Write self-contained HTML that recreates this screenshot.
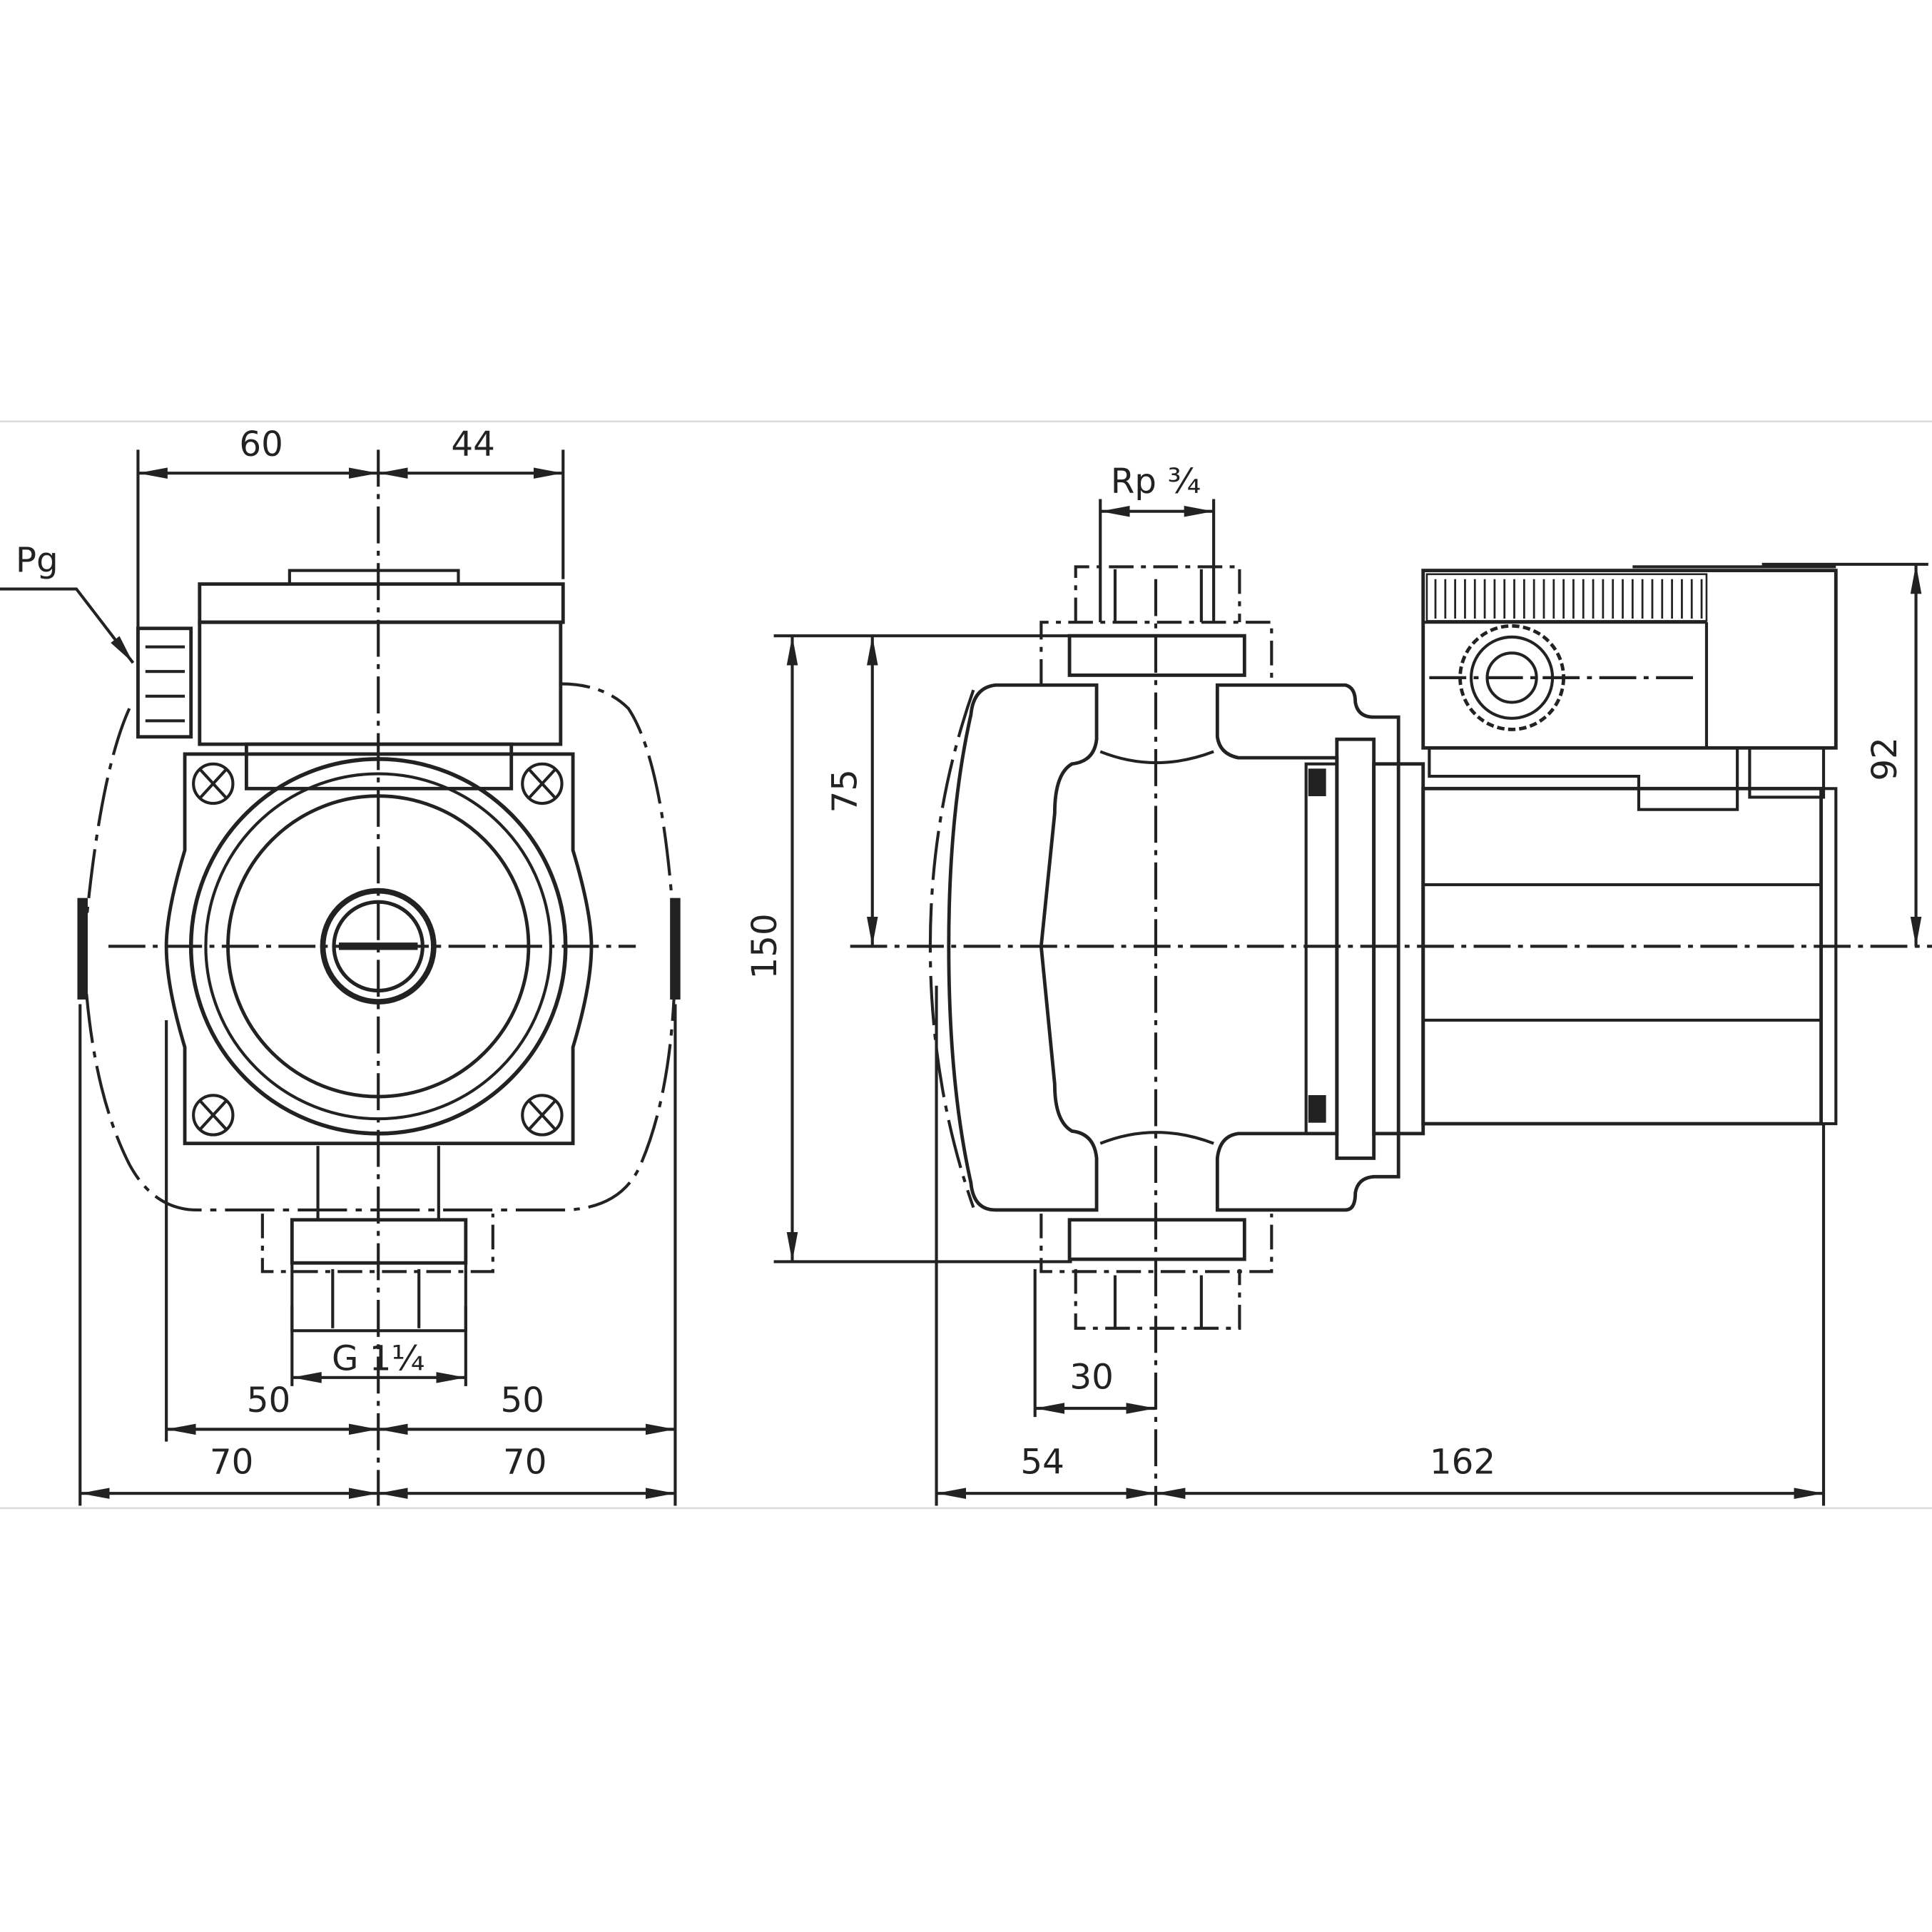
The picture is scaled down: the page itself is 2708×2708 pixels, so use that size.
<!DOCTYPE html>
<html><head><meta charset="utf-8"><style>
html,body{margin:0;padding:0;background:#fff}
svg{display:block}
text{font-family:"DejaVu Sans","Liberation Sans",sans-serif;font-size:28px;fill:#222;font-weight:500}
</style></head><body>
<svg width="2708" height="2708" viewBox="0 0 1568 1568" xmlns="http://www.w3.org/2000/svg">
<defs>
<marker id="a" viewBox="0 0 24 9" refX="24" refY="4.5" markerWidth="24" markerHeight="9" markerUnits="userSpaceOnUse" orient="auto-start-reverse"><path d="M0,0L24,4.5L0,9z" fill="#222"/></marker>
</defs>
<rect width="1568" height="1568" fill="#fff"/>
<line x1="0" y1="342" x2="1568" y2="342" stroke="#ddd" stroke-width="1.5"/>
<line x1="0" y1="1224" x2="1568" y2="1224" stroke="#ddd" stroke-width="1.5"/>
<g stroke="#222" fill="none" stroke-width="2.4">
<!-- LEFT VIEW dims -->
<line x1="112" y1="384" x2="307" y2="384" marker-start="url(#a)" marker-end="url(#a)"/>
<line x1="307" y1="384" x2="457" y2="384" marker-start="url(#a)" marker-end="url(#a)"/>
<line x1="112" y1="365" x2="112" y2="540"/>
<line x1="457" y1="365" x2="457" y2="470"/>
<line x1="307" y1="365" x2="307" y2="1222" stroke-dasharray="30,6,4,6"/>
<line x1="88" y1="768" x2="516" y2="768" stroke-dasharray="30,6,4,6"/>
<polyline points="0,478 62,478 108,538" marker-end="url(#a)"/>
<line x1="237" y1="1118" x2="378" y2="1118" marker-start="url(#a)" marker-end="url(#a)"/>
<line x1="237" y1="1060" x2="237" y2="1125"/><line x1="378" y1="1060" x2="378" y2="1125"/>
<line x1="135" y1="1160" x2="307" y2="1160" marker-start="url(#a)" marker-end="url(#a)"/>
<line x1="307" y1="1160" x2="548" y2="1160" marker-start="url(#a)" marker-end="url(#a)"/>
<line x1="65" y1="1212" x2="307" y2="1212" marker-start="url(#a)" marker-end="url(#a)"/>
<line x1="307" y1="1212" x2="548" y2="1212" marker-start="url(#a)" marker-end="url(#a)"/>
<line x1="135" y1="828" x2="135" y2="1170"/>
<line x1="548" y1="815" x2="548" y2="1222"/>
<line x1="65" y1="815" x2="65" y2="1222"/>
<!-- LEFT VIEW body -->
<path d="M105,575 Q80,630 68,770 Q72,880 105,945 Q125,982 160,982 L460,982 Q505,980 520,945 Q548,880 548,770 Q540,620 510,575 Q490,555 455,555" stroke-dasharray="40,7,5,7"/>
<rect x="64" y="730" width="6" height="80" fill="#222"/><rect x="545" y="730" width="6" height="80" fill="#222"/>
<rect x="162" y="474" width="295" height="31" stroke-width="2.8"/>
<rect x="162" y="505" width="293" height="99" stroke-width="2.8"/>
<rect x="235" y="463" width="137" height="11"/>
<rect x="112" y="510" width="43" height="88" stroke-width="2.8"/>
<line x1="118" y1="525" x2="150" y2="525"/><line x1="118" y1="545" x2="150" y2="545"/><line x1="118" y1="565" x2="150" y2="565"/><line x1="118" y1="585" x2="150" y2="585"/>
<rect x="200" y="604" width="215" height="36" stroke-width="2.8"/>
<path d="M150,612 L465,612 L465,690 Q480,740 480,768 Q480,800 465,850 L465,928 L150,928 L150,850 Q135,800 135,768 Q135,740 150,690 Z" stroke-width="2.8"/>
<circle cx="173" cy="636" r="16"/><circle cx="440" cy="636" r="16"/><circle cx="173" cy="905" r="16"/><circle cx="440" cy="905" r="16"/>
<path d="M162,624l22,24M184,624l-22,24M429,624l22,24M451,624l-22,24M162,893l22,24M184,893l-22,24M429,893l22,24M451,893l-22,24"/>
<circle cx="307" cy="768" r="152" stroke-width="3.2"/>
<circle cx="307" cy="768" r="140" stroke-width="2.4"/>
<circle cx="307" cy="768" r="122" stroke-width="2.8"/>
<circle cx="307" cy="768" r="45" stroke-width="4.5"/>
<circle cx="307" cy="768" r="36" stroke-width="3"/>
<line x1="275" y1="768" x2="339" y2="768" stroke-width="6"/>
<path d="M258,930 L258,990 M356,930 L356,990"/>
<rect x="237" y="990" width="141" height="35" stroke-width="2.8"/>
<path d="M237,1025 L237,1080 L378,1080 L378,1025 M270,1030 L270,1078 M340,1030 L340,1078"/>
<path d="M213,985 L213,1032 L400,1032 L400,985" stroke-dasharray="20,6,4,6"/>
<!-- RIGHT VIEW dims -->
<line x1="893" y1="415" x2="985" y2="415" marker-start="url(#a)" marker-end="url(#a)"/>
<line x1="893" y1="405" x2="893" y2="505"/><line x1="985" y1="405" x2="985" y2="505"/>
<line x1="643" y1="516" x2="643" y2="1024" marker-start="url(#a)" marker-end="url(#a)"/>
<line x1="708" y1="516" x2="708" y2="768" marker-start="url(#a)" marker-end="url(#a)"/>
<line x1="628" y1="516" x2="870" y2="516"/>
<line x1="628" y1="1024" x2="870" y2="1024"/>
<line x1="690" y1="768" x2="1568" y2="768" stroke-dasharray="30,6,4,6"/>
<line x1="938" y1="470" x2="938" y2="1222" stroke-dasharray="30,6,4,6"/>
<line x1="1555" y1="458" x2="1555" y2="768" marker-start="url(#a)" marker-end="url(#a)"/>
<line x1="1430" y1="458" x2="1565" y2="458"/>
<line x1="840" y1="1143" x2="938" y2="1143" marker-start="url(#a)" marker-end="url(#a)"/>
<line x1="840" y1="1030" x2="840" y2="1150"/>
<line x1="760" y1="1212" x2="938" y2="1212" marker-start="url(#a)" marker-end="url(#a)"/>
<line x1="938" y1="1212" x2="1480" y2="1212" marker-start="url(#a)" marker-end="url(#a)"/>
<line x1="760" y1="800" x2="760" y2="1222"/>
<line x1="1480" y1="912" x2="1480" y2="1222"/>
<!-- RIGHT VIEW body -->
<path d="M873,505 L873,460 L1006,460 L1006,505" stroke-dasharray="20,6,4,6"/>
<path d="M905,462 L905,505 M975,462 L975,505"/>
<path d="M845,555 L845,505 L1032,505 L1032,555" stroke-dasharray="20,6,4,6"/>
<rect x="868" y="516" width="142" height="32" stroke-width="2.8"/>
<rect x="868" y="990" width="142" height="32" stroke-width="2.8"/>
<path d="M873,1030 L873,1078 L1006,1078 L1006,1030" stroke-dasharray="20,6,4,6"/>
<path d="M905,1035 L905,1078 M975,1035 L975,1078"/>
<path d="M845,985 L845,1032 L1032,1032 L1032,985" stroke-dasharray="20,6,4,6"/>
<path d="M890,556 L808,556 Q790,558 788,580 Q770,660 770,768 Q770,880 788,960 Q790,982 808,982 L890,982 L890,940 Q888,920 870,918 Q856,910 856,880 L845,768 L856,660 Q856,628 870,620 Q888,618 890,600 Z" stroke-width="2.8"/>
<path d="M988,556 L1092,556 Q1100,558 1100,570 Q1102,582 1115,582 L1135,582 L1135,955 L1115,955 Q1102,956 1100,968 Q1100,982 1092,982 L988,982 L988,940 Q990,922 1005,920 L1085,920 L1085,615 L1005,615 Q990,612 988,598 Z" stroke-width="2.8"/>
<path d="M893,610 Q938,628 985,610 M893,928 Q938,910 985,928"/>
<path d="M790,560 Q755,660 755,768 Q755,880 790,980" stroke-dasharray="40,7,5,7"/>
<rect x="1085" y="600" width="30" height="340" stroke-width="2.8"/>
<rect x="1060" y="620" width="25" height="300"/>
<rect x="1115" y="620" width="40" height="300" stroke-width="2.8"/>
<rect x="1063" y="625" width="12" height="20" fill="#222"/><rect x="1063" y="890" width="12" height="20" fill="#222"/>
<rect x="1155" y="640" width="323" height="272" stroke-width="2.8"/>
<line x1="1155" y1="718" x2="1478" y2="718"/><line x1="1155" y1="828" x2="1478" y2="828"/>
<path d="M1478,640 L1490,640 L1490,912 L1478,912"/>
<rect x="1155" y="463" width="335" height="144" stroke-width="2.8"/>
<rect x="1158" y="466" width="227" height="38" stroke-width="1.5"/>
<g stroke-width="1.6">
<path d="M1165,470V502M1173,470V502M1181,470V502M1189,470V502M1197,470V502M1205,470V502M1213,470V502M1221,470V502M1229,470V502M1237,470V502M1245,470V502M1253,470V502M1261,470V502M1269,470V502M1277,470V502M1285,470V502M1293,470V502M1301,470V502M1309,470V502M1317,470V502M1325,470V502M1333,470V502M1341,470V502M1349,470V502M1357,470V502M1365,470V502M1373,470V502M1381,470V502"/>
</g>
<line x1="1325" y1="460" x2="1490" y2="460"/>
<line x1="1155" y1="505" x2="1385" y2="505"/>
<line x1="1385" y1="505" x2="1385" y2="607"/>
<circle cx="1227" cy="550" r="42" stroke-width="2.8" stroke-dasharray="6,3"/>
<circle cx="1227" cy="550" r="33"/>
<circle cx="1227" cy="550" r="20"/>
<line x1="1160" y1="550" x2="1380" y2="550" stroke-dasharray="30,6,4,6"/>
<path d="M1160,607 L1160,630 L1330,630 L1330,657 L1410,657 L1410,607"/>
<rect x="1420" y="607" width="60" height="40"/>
</g>
<!-- TEXT -->
<text x="212" y="370" text-anchor="middle">60</text>
<text x="384" y="370" text-anchor="middle">44</text>
<text x="30" y="464" text-anchor="middle">Pg</text>
<text x="307" y="1112" text-anchor="middle">G 1¼</text>
<text x="218" y="1146" text-anchor="middle">50</text>
<text x="424" y="1146" text-anchor="middle">50</text>
<text x="188" y="1196" text-anchor="middle">70</text>
<text x="426" y="1196" text-anchor="middle">70</text>
<text x="938" y="400" text-anchor="middle">Rp ¾</text>
<text x="886" y="1127" text-anchor="middle">30</text>
<text x="846" y="1196" text-anchor="middle">54</text>
<text x="1187" y="1196" text-anchor="middle">162</text>
<text transform="translate(630,768) rotate(-90)" text-anchor="middle">150</text>
<text transform="translate(695,642) rotate(-90)" text-anchor="middle">75</text>
<text transform="translate(1539,616) rotate(-90)" text-anchor="middle">92</text>
</svg>
</body></html>
